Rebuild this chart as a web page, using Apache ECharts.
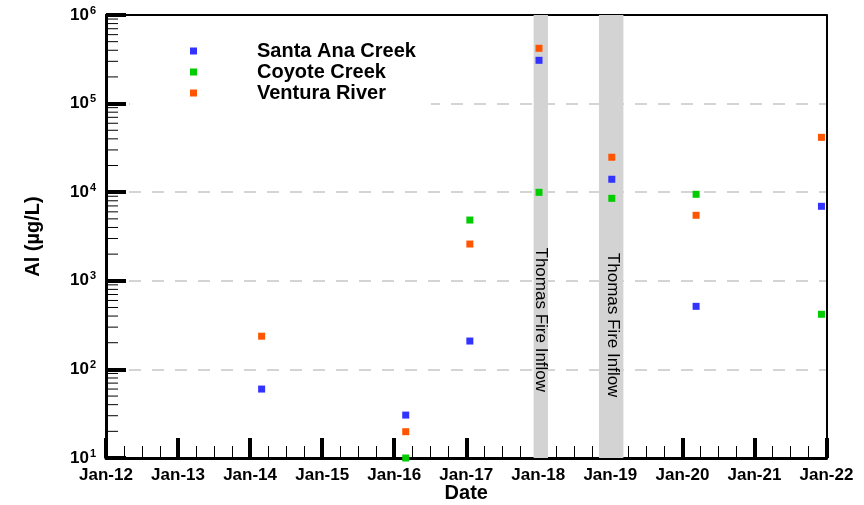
<!DOCTYPE html>
<html><head><meta charset="utf-8">
<script src="https://cdn.jsdelivr.net/npm/echarts@6/dist/echarts.min.js"></script>
<style>html,body{margin:0;padding:0;background:#fff}#c{width:864px;height:505px}</style>
</head><body><div id="c"></div><script>
const xTickLabels = ['Jan-12','Jan-13','Jan-14','Jan-15','Jan-16','Jan-17','Jan-18','Jan-19','Jan-20','Jan-21','Jan-22'];
const santaAnaX = [2014.16, 2016.16, 2017.05, 2018.01, 2019.02, 2020.19, 2021.93];
const santaAna  = [60, 30.5, 209, 308000, 14000, 515, 6930];
const coyoteX = [2016.16, 2017.05, 2018.01, 2019.02, 2020.19, 2021.93];
const coyote  = [10, 4850, 9970, 8530, 9470, 419];
const venturaX = [2014.16, 2016.16, 2017.05, 2018.01, 2019.02, 2020.19, 2021.93];
const ventura  = [237, 19.8, 2600, 421000, 24800, 5490, 41600];
const bandStart = [2017.935, 2018.842];
const bandEnd   = [2018.134, 2019.181];
const bandLabelX = [2018.03, 2019.03];
const bandLabelY = [363, 316];
const bandText = 'Thomas Fire Inflow';
const seriesNames = ['Santa Ana Creek', 'Coyote Creek', 'Ventura River'];
const colors = ['#3333ff', '#00cc00', '#ff5500'];

const FONT = "'Liberation Sans', Arial, Helvetica, sans-serif";
const pair = (xs, ys) => xs.map((x, i) => [x, ys[i]]);

// minor tick positions of the log axis (2..9 per decade)
const minorTicks = [];
for (let k = 1; k <= 5; k++) for (let m = 2; m <= 9; m++) minorTicks.push([2012, m * Math.pow(10, k)]);

const chart = echarts.init(document.getElementById('c'), null, {renderer: 'canvas'});
chart.setOption({
  animation: false,
  grid: {left: 106, right: 37.5, top: 15, bottom: 47, outerBoundsMode: 'none', containLabel: false,
         show: false},
  legend: {
    orient: 'vertical', left: 130, top: 34,
    padding: [7, 15, 6, 60],
    backgroundColor: '#fff',
    itemWidth: 7, itemHeight: 7, itemGap: 1,
    icon: 'rect',
    data: seriesNames,
    formatter: n => '{g|}{t|' + n + '}',
    textStyle: {
      rich: {
        g: {width: 55},
        t: {fontFamily: FONT, fontWeight: 'bold', fontSize: 20, color: '#000', lineHeight: 20}
      }
    }
  },
  xAxis: [{
    type: 'value', min: 2012, max: 2022, interval: 1,
    name: 'Date', nameLocation: 'middle', nameGap: 25, nameMoveOverlap: false,
    nameTextStyle: {fontFamily: FONT, fontWeight: 'bold', fontSize: 20, color: '#000'},
    axisLine: {lineStyle: {color: '#000', width: 3}},
    axisTick: {inside: true, length: 20, lineStyle: {color: '#000', width: 4}},
    minorTick: {show: true, splitNumber: 4, length: 12, lineStyle: {color: '#000', width: 1}},
    splitLine: {show: false},
    axisLabel: {
      margin: 9, fontFamily: FONT, fontWeight: 'bold', fontSize: 17, color: '#000',
      formatter: v => xTickLabels[Math.round(v - 2012)]
    }
  }, {
    type: 'value', position: 'top', min: 2012, max: 2022,
    axisLine: {show: true, onZero: false, lineStyle: {color: '#000', width: 2}},
    axisTick: {show: false}, axisLabel: {show: false}, splitLine: {show: false}
  }],
  yAxis: [{
    type: 'log', logBase: 10, min: 10, max: 1e6, splitNumber: 5,
    name: 'Al (\u00b5g/L)', nameLocation: 'middle', nameGap: 63,
    nameTextStyle: {fontFamily: FONT, fontWeight: 'bold', fontSize: 20, color: '#000'},
    axisLine: {lineStyle: {color: '#000', width: 3}},
    axisTick: {inside: true, length: 20, lineStyle: {color: '#000', width: 4}},
    splitLine: {show: true, showMinLine: false, showMaxLine: false,
                lineStyle: {color: '#d4d4d4', width: 2, type: [12, 11]}},
    axisLabel: {
      margin: 10,
      formatter: v => '{b|10}{e|' + Math.round(Math.log10(v)) + '}',
      rich: {
        b: {fontFamily: FONT, fontWeight: 'bold', fontSize: 17, color: '#000', lineHeight: 20},
        e: {fontFamily: FONT, fontWeight: 'bold', fontSize: 11, color: '#000', padding: [0, 0, 9, 1]}
      }
    }
  }, {
    type: 'log', logBase: 10, min: 10, max: 1e6, position: 'right',
    axisLine: {show: true, onZero: false, lineStyle: {color: '#000', width: 2}},
    axisTick: {show: false}, axisLabel: {show: false}, splitLine: {show: false}
  }],
  series: [
    {
      name: 'bands', type: 'scatter', z: 1, silent: true,
      symbolSize: 0, itemStyle: {opacity: 1},
      data: pair(bandLabelX, bandLabelY),
      label: {show: true, position: 'inside', rotate: -90, formatter: bandText,
              fontFamily: FONT, fontSize: 17, color: '#000', offset: [0, 0]},
      markArea: {
        silent: true,
        itemStyle: {color: '#d3d3d3', borderWidth: 0, opacity: 1},
        data: bandStart.map((s, i) => [{xAxis: s}, {xAxis: bandEnd[i]}])
      }
    },
    {
      name: 'minorTicks', type: 'custom', z: 2, silent: true,
      data: minorTicks,
      renderItem: (params, api) => {
        const p = api.coord([api.value(0), api.value(1)]);
        return {type: 'line', shape: {x1: p[0], y1: p[1], x2: p[0] + 12, y2: p[1]},
                style: {stroke: '#000', lineWidth: 1}};
      }
    },
    {name: seriesNames[0], type: 'scatter', z: 3, symbol: 'rect', symbolSize: 7,
     itemStyle: {color: colors[0], opacity: 1}, data: pair(santaAnaX, santaAna)},
    {name: seriesNames[1], type: 'scatter', z: 3, symbol: 'rect', symbolSize: 7,
     itemStyle: {color: colors[1], opacity: 1}, data: pair(coyoteX, coyote)},
    {name: seriesNames[2], type: 'scatter', z: 3, symbol: 'rect', symbolSize: 7,
     itemStyle: {color: colors[2], opacity: 1}, data: pair(venturaX, ventura)}
  ]
});
</script></body></html>
